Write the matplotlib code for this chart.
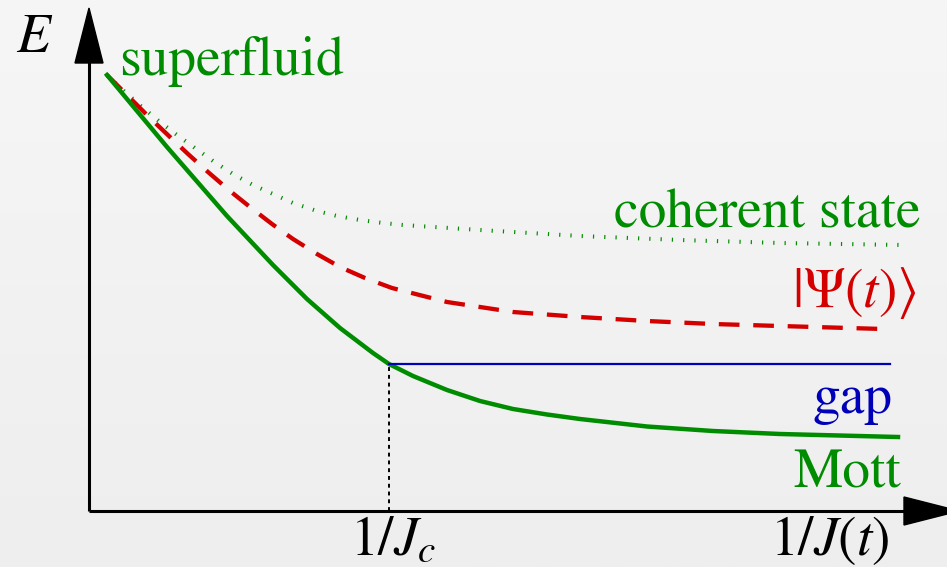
import numpy as np
import matplotlib.pyplot as plt
from matplotlib.colors import LinearSegmentedColormap
from matplotlib.patches import Polygon

# Schematic energies versus 1/J (arbitrary units)
x_mott = [0.18, 0.78, 1.38, 1.84, 2.18, 2.51, 2.84, 3.00, 3.24, 3.58, 3.91,
          4.24, 4.58, 4.91, 5.58, 6.24, 6.91, 8.09]
e_mott = [4.36, 3.64, 2.95, 2.46, 2.12, 1.83, 1.58, 1.47, 1.35, 1.21, 1.10,
          1.02, 0.965, 0.92, 0.845, 0.80, 0.77, 0.74]

x_psi = [0.18, 0.41, 0.61, 0.81, 0.99, 1.19, 1.41, 1.61, 1.83, 2.04, 2.28, 2.51,
         2.76, 3.03, 3.58, 4.24, 4.91, 5.58, 6.24, 6.91, 7.94]
e_psi = [4.36, 4.13, 3.93, 3.74, 3.57, 3.39, 3.20, 3.04, 2.87, 2.72, 2.57, 2.44,
         2.33, 2.23, 2.09, 1.99, 1.94, 1.90, 1.87, 1.85, 1.82]

x_coh = [0.18, 0.36, 0.53, 0.71, 0.88, 1.06, 1.24, 1.44, 1.64, 1.84, 2.04, 2.28,
         2.48, 2.71, 2.94, 3.14, 3.91, 4.91, 5.91, 6.91, 8.14]
e_coh = [4.36, 4.19, 4.04, 3.89, 3.76, 3.63, 3.50, 3.37, 3.26, 3.17, 3.08, 3.00,
         2.95, 2.91, 2.88, 2.86, 2.81, 2.75, 2.71, 2.68, 2.66]

x_c = 3.00        # critical point 1/J_c
gap_level = 1.47  # energy of the gap line
gap_end = 8.01

green = '#008c00'
red = '#d40000'
blue = '#0000b8'

plt.rcParams['mathtext.fontset'] = 'stix'
plt.rcParams['font.family'] = 'STIXGeneral'

fig = plt.figure(figsize=(9.47, 5.67), dpi=100)
ax = fig.add_axes([0, 0, 1, 1])
ax.set_xlim(-0.89, 8.58)
ax.set_ylim(-0.56, 5.11)
ax.axis('off')

# light grey gradient background
grad = np.linspace(0, 1, 256).reshape(-1, 1)
bg = LinearSegmentedColormap.from_list('bg', ['#eeeeee', '#f6f6f6'])
ax.imshow(grad, extent=[-0.89, 8.58, -0.56, 5.11], aspect='auto',
          cmap=bg, origin='lower', zorder=0)

# axes with arrow heads
ax.plot([0, 0], [0, 4.5], color='black', lw=2.2, solid_capstyle='butt', zorder=3)
ax.plot([0, 8.2], [0, 0], color='black', lw=2.2, solid_capstyle='butt', zorder=3)
ax.add_patch(Polygon([[-0.14, 4.48], [0.14, 4.48], [0, 5.03]], closed=True,
                     color='black', zorder=3, clip_on=False))
ax.add_patch(Polygon([[8.15, 0.14], [8.15, -0.14], [8.70, 0]], closed=True,
                     color='black', zorder=3, clip_on=False))

# curves
ax.plot(x_coh, e_coh, color=green, lw=2.9, dashes=(0.3, 2.5),
        dash_capstyle='butt', zorder=2)
ax.plot(x_psi, e_psi, color=red, lw=3.1, dashes=(4.8, 3.2),
        dash_capstyle='butt', dash_joinstyle='round', zorder=2)
ax.plot(x_mott, e_mott, color=green, lw=3.2, solid_joinstyle='round', zorder=2)
ax.plot([x_c, gap_end], [gap_level, gap_level], color=blue, lw=1.6, zorder=2)
ax.plot([x_c, x_c], [0, gap_level], color='black', lw=1.4, dashes=(2, 2), zorder=2)

fs = 40
ax.text(-0.73, 4.59, '$E$', fontsize=fs, ha='left', va='baseline')
ax.text(0.30, 4.36, 'superfluid', fontsize=fs, color=green, ha='left', va='baseline')
ax.text(8.31, 2.83, 'coherent state', fontsize=fs, color=green, ha='right', va='baseline')
ax.text(8.28, 2.04, r'$|\Psi(t)\rangle$', fontsize=fs, color=red, ha='right', va='baseline')
ax.text(8.04, 0.98, 'gap', fontsize=fs, color=blue, ha='right', va='baseline')
ax.text(8.12, 0.23, 'Mott', fontsize=fs, color=green, ha='right', va='baseline')
ax.text(2.61, -0.44, '$1/J_c$', fontsize=fs, ha='left', va='baseline')
ax.text(8.00, -0.44, '$1/J(t)$', fontsize=fs, ha='right', va='baseline')

fig.savefig('out.png', dpi=100)
